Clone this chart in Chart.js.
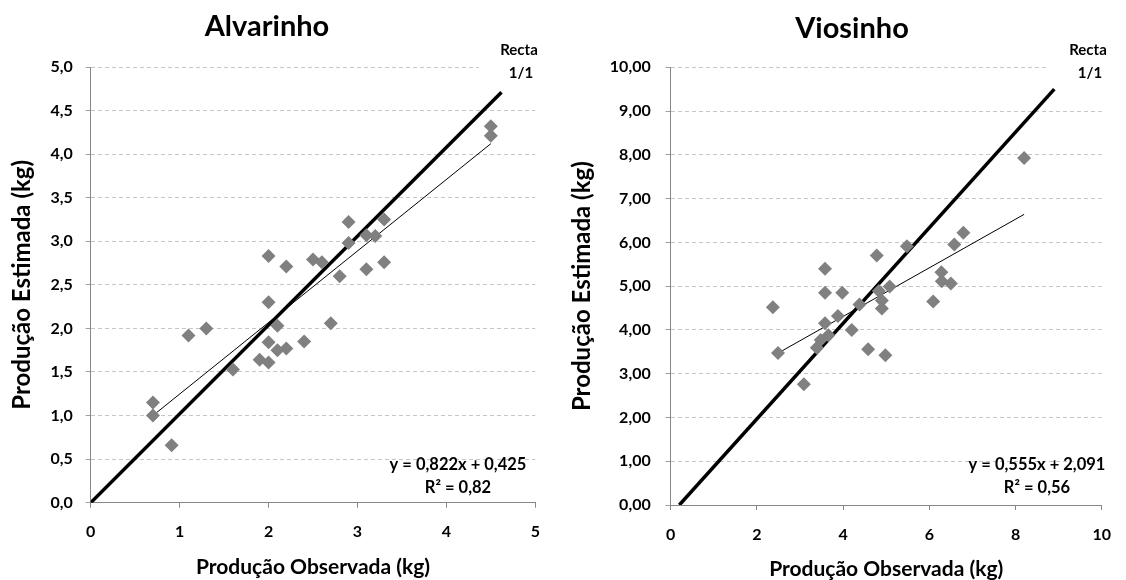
<!DOCTYPE html>
<html>
<head>
<meta charset="utf-8">
<script src="https://cdn.jsdelivr.net/npm/chart.js@4.4.1/dist/chart.umd.min.js"></script>
<style>
  html, body { margin: 0; padding: 0; background: #fff; }
  #wrap { position: relative; width: 1126px; height: 580px; overflow: hidden; }
  canvas { position: absolute; top: 0; }
</style>
</head>
<body>
<div id="wrap">
  <canvas id="alvarinho" width="560" height="580" style="left:0"></canvas>
  <canvas id="viosinho" width="566" height="580" style="left:560px"></canvas>
</div>
<script>
// DADOS - Alvarinho
const alvObs = [0.7, 0.7, 0.91, 1.1, 1.3, 1.6, 1.9, 2.0, 2.0, 2.0, 2.0, 2.1, 2.1, 2.2, 2.2, 2.4, 2.5, 2.6, 2.7, 2.8, 2.9, 2.9, 3.1, 3.1, 3.2, 3.3, 3.3, 4.5, 4.5];
const alvEst = [1.15, 1.00, 0.66, 1.92, 2.00, 1.53, 1.64, 1.61, 1.84, 2.30, 2.83, 2.03, 1.75, 1.77, 2.71, 1.85, 2.79, 2.76, 2.06, 2.60, 2.98, 3.22, 2.68, 3.07, 3.06, 3.25, 2.76, 4.21, 4.32];
const alvTrendX = [0.7, 4.5];
const alvTrendY = [1.0, 4.12];
const alvRectaX = [0, 4.62];
const alvRectaY = [0, 4.71];

// DADOS - Viosinho
const vioObs = [2.37, 2.49, 3.09, 3.39, 3.48, 3.58, 3.58, 3.58, 3.66, 3.88, 3.98, 4.20, 4.38, 4.58, 4.78, 4.83, 4.90, 4.90, 4.98, 5.08, 5.48, 6.09, 6.28, 6.29, 6.50, 6.58, 6.79, 8.20];
const vioEst = [4.52, 3.47, 2.76, 3.59, 3.77, 4.15, 4.85, 5.40, 3.88, 4.32, 4.85, 4.00, 4.58, 3.56, 5.70, 4.89, 4.67, 4.49, 3.42, 4.99, 5.91, 4.65, 5.32, 5.11, 5.06, 5.95, 6.22, 7.93];
const vioTrendX = [2.4, 8.2];
const vioTrendY = [3.42, 6.64];
const vioRectaX = [0.2, 8.9];
const vioRectaY = [0, 9.5];

// textos
const eqAlv = ["y = 0,822x + 0,425", "R² = 0,82"];
const eqVio = ["y = 0,555x + 2,091", "R² = 0,56"];
const rectaLabel = ["Recta", "1/1"];

const pts = (xs, ys) => xs.map((x, i) => ({ x: x, y: ys[i] }));

Chart.defaults.font.family = "Lato, 'DejaVu Sans', sans-serif";
Chart.defaults.color = "#000";

// titulo, "Recta 1/1" e equacao desenhados por cima
const notesPlugin = {
  id: "notes",
  afterDraw(chart, args, o) {
    const c = chart.ctx;
    c.save();
    c.textAlign = "center";
    c.textBaseline = "middle";
    c.fillStyle = "#000";
    c.font = "bold 29px Lato";
    c.fillText(o.title, o.titleX, o.titleY);

    c.fillStyle = "#fff";
    c.fillRect(o.rectaX - 40, 36, 80, 48);
    c.fillStyle = "#000";
    c.font = "bold 15px Lato";
    c.fillText(rectaLabel[0], o.rectaX, 50);
    c.fillText(rectaLabel[1], o.rectaX + 2, 73);

    c.font = "bold 16.5px Lato";
    c.fillText(o.eq[0], o.eqX, 465);
    c.fillText(o.eq[1], o.eqX, 488);
    c.restore();
  }
};

function makeChart(id, d) {
  new Chart(document.getElementById(id), {
    type: "scatter",
    data: {
      datasets: [
        {
          data: pts(d.obs, d.est),
          pointStyle: "rectRot",
          pointRadius: 7,
          pointHoverRadius: 7,
          backgroundColor: "#808080",
          borderColor: "#808080",
          borderWidth: 0,
          order: 0
        },
        {
          type: "line",
          data: pts(d.trendX, d.trendY),
          borderColor: "#000",
          borderWidth: 1,
          pointRadius: 0,
          fill: false,
          order: 1
        },
        {
          type: "line",
          data: pts(d.rectaX, d.rectaY),
          borderColor: "#000",
          borderWidth: 3.5,
          pointRadius: 0,
          fill: false,
          order: 2
        }
      ]
    },
    options: {
      responsive: false,
      animation: false,
      layout: { padding: { top: d.top, right: d.right, left: 0, bottom: 0 } },
      plugins: {
        legend: { display: false },
        tooltip: { enabled: false },
        notes: d.notes
      },
      scales: {
        x: {
          type: "linear",
          min: 0, max: d.xMax,
          ticks: { stepSize: d.xStep, padding: 15, font: { size: 16, weight: "bold" } },
          grid: { drawOnChartArea: false, drawTicks: true, tickLength: 5, tickColor: "#868686" },
          border: { color: "#868686", width: 1 },
          title: {
            display: true,
            text: "Produção Observada (kg)",
            font: { size: 21, weight: "bold", lineHeight: 1 },
            padding: { top: 0, bottom: d.xTitlePad }
          },
          afterFit: s => { s.height = d.xHeight; }
        },
        y: {
          min: 0, max: d.yMax,
          ticks: {
            stepSize: d.yStep,
            padding: d.yTickPad,
            font: { size: 16, weight: "bold" },
            callback: v => v.toFixed(d.dec).replace(".", ",")
          },
          grid: { color: "#c6c6c6", tickLength: 5, tickColor: "#868686", tickBorderDash: [1, 0] },
          border: { color: "#868686", width: 1, dash: [4, 3] },
          title: {
            display: true,
            text: "Produção Estimada (kg)",
            font: { size: 24, weight: "bold", lineHeight: 1 },
            padding: { top: 10, bottom: 0 }
          },
          afterFit: s => { s.width = d.yWidth; }
        }
      }
    },
    plugins: [notesPlugin]
  });
}

makeChart("alvarinho", {
  obs: alvObs, est: alvEst, trendX: alvTrendX, trendY: alvTrendY, rectaX: alvRectaX, rectaY: alvRectaY,
  xMax: 5, xStep: 1, yMax: 5, yStep: 0.5, dec: 1,
  top: 67, right: 24.7, yWidth: 90.7, xHeight: 77.3, yTickPad: 13, xTitlePad: 2.5,
  notes: { title: "Alvarinho", titleX: 267, titleY: 27, rectaX: 519, eq: eqAlv, eqX: 458 }
});

makeChart("viosinho", {
  obs: vioObs, est: vioEst, trendX: vioTrendX, trendY: vioTrendY, rectaX: vioRectaX, rectaY: vioRectaY,
  xMax: 10, xStep: 2, yMax: 10, yStep: 1, dec: 2,
  top: 67.3, right: 10.7, yWidth: 110.7, xHeight: 75, yTickPad: 15, xTitlePad: 0,
  notes: { title: "Viosinho", titleX: 292, titleY: 29, rectaX: 528, eq: eqVio, eqX: 477 }
});
</script>
</body>
</html>
